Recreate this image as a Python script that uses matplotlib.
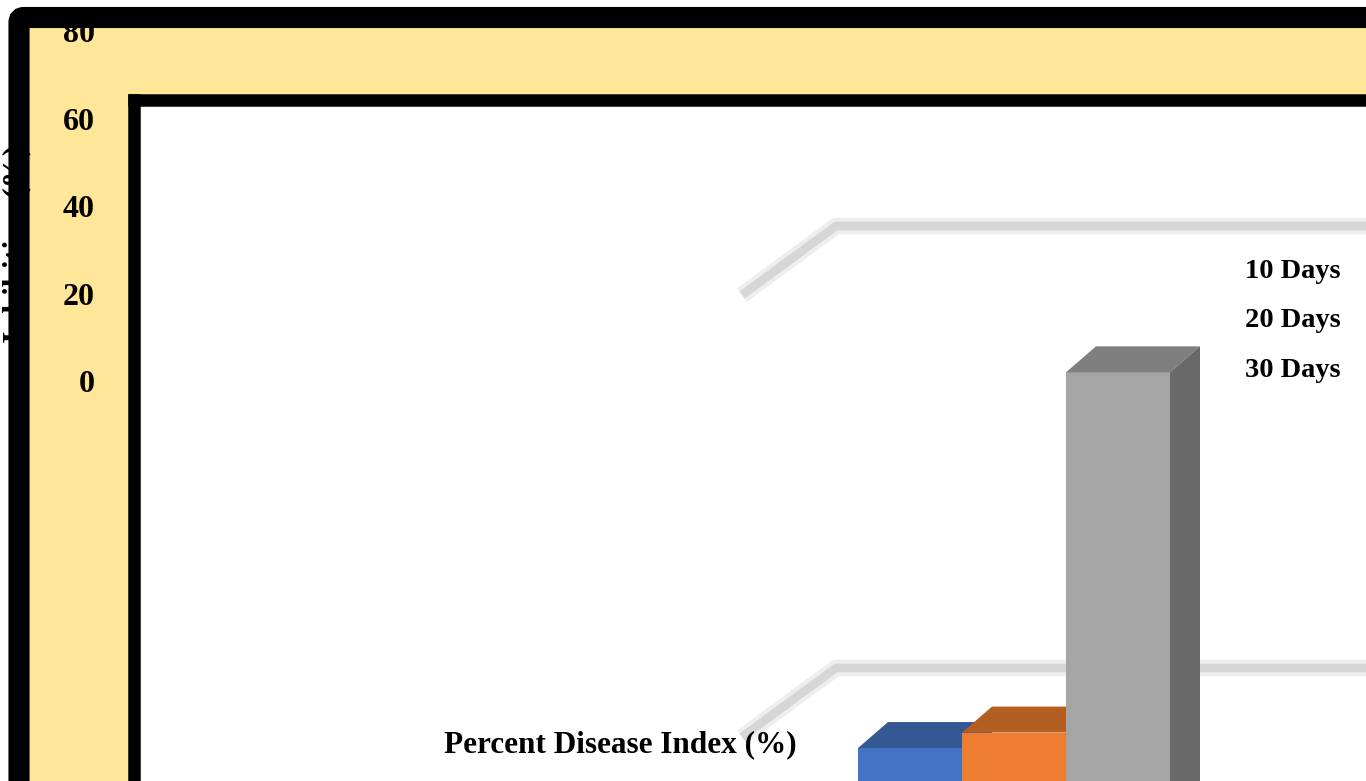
import matplotlib
matplotlib.use("Agg")
import matplotlib.pyplot as plt
from matplotlib.patches import Polygon, FancyBboxPatch
from matplotlib.transforms import IdentityTransform

plt.rcParams["font.family"] = ["Liberation Serif", "DejaVu Serif"]
plt.rcParams["font.weight"] = "bold"

# data
category = "Percent Disease Index (%)"
series = ["10 Days", "20 Days", "30 Days"]
values = [19.5, 20.2, 36.5]
front_colors = ["#4472c4", "#ed7d31", "#a5a5a5"]
top_colors = ["#335894", "#b45f22", "#7f7f7f"]
side_colors = ["#2f5597", "#c55a11", "#696969"]
grid_values = [20, 40]
y_ticks = [0, 20, 40, 60, 80]
y_label = "Inhibition (%)"

W, H = 1366, 781
fig = plt.figure(figsize=(W / 100, H / 100), dpi=100)


def fx(px):
    return px / W


def fy(py):
    # py counted from the top of the picture
    return 1 - py / H


# yellow chart area with the rounded black border
box = dict(boxstyle="round,pad=0,rounding_size=5", transform=IdentityTransform())
yellow = FancyBboxPatch((19, -60), W + 60, H + 60 - 17.5, facecolor="#ffe699",
                        edgecolor="none", zorder=-1, **box)
border = FancyBboxPatch((19, -60), W + 60, H + 60 - 17.5, facecolor="none",
                        edgecolor="black", linewidth=15.2, zorder=2, **box)
fig.add_artist(yellow)
fig.add_artist(border)

# plot area (zoomed 3d column chart)
ax = fig.add_axes([fx(134), 0, 1 - fx(134), fy(99.5)])
px_x, cx = 390.0, 1014.0     # px per x unit, px of group centre
px_y, y0 = 22.1, 1179.0      # px per y unit, px of value 0
ax.set_xlim((134 - cx) / px_x, (W - cx) / px_x)
ax.set_ylim((y0 - H) / px_y, (y0 - 99.5) / px_y)
ax.set_xticks([])
ax.set_yticks([])
for s in ["right", "bottom"]:
    ax.spines[s].set_visible(False)
for s in ["left", "top"]:
    ax.spines[s].set_linewidth(9)
    ax.spines[s].set_capstyle("projecting")

# back wall gridlines
wall_x = (742 - cx) / px_x
wall_dx, wall_dy = 94 / px_x, 69 / px_y
for g in grid_values:
    xs = [wall_x, wall_x + wall_dx, 5]
    ys = [g, g + wall_dy, g + wall_dy]
    ax.plot(xs, ys, color="#eeeeee", lw=12, zorder=1, solid_capstyle="butt")
    ax.plot(xs, ys, color="#d6d6d6", lw=6.2, zorder=1.1, solid_capstyle="butt")

# bars with fake depth
w = 0.8 / len(series)
ddx, ddy = 30 / px_x, 26 / px_y
handles = []
for i, (name, v) in enumerate(zip(series, values)):
    x = (i - (len(series) - 1) / 2) * w
    z = 3 + i
    b = ax.bar(x, v, width=w, color=front_colors[i], linewidth=0, zorder=z, label=name)
    handles.append(b)
    l, r = x - w / 2, x + w / 2
    ax.add_patch(Polygon([(l, v), (r, v), (r + ddx, v + ddy), (l + ddx, v + ddy)],
                         closed=True, facecolor=top_colors[i], edgecolor="none", zorder=z))
    ax.add_patch(Polygon([(r, 0), (r, v), (r + ddx, v + ddy), (r + ddx, ddy)],
                         closed=True, facecolor=side_colors[i], edgecolor="none", zorder=z))

ax.text((620 - cx) / px_x, (y0 - 745) / px_y, category, ha="center", va="center",
        fontsize=22.5, zorder=10)

leg = ax.legend(handles, series, loc="upper left", bbox_to_anchor=(fx(1245), fy(258)),
                bbox_transform=fig.transFigure, frameon=False, fontsize=20.5,
                handlelength=0, handletextpad=0, labelspacing=0.83, borderpad=0,
                borderaxespad=0)
for h in leg.legend_handles:
    h.set_visible(False)

# value axis labels on the yellow band
ax_t = fig.add_axes([fx(100), 0, fx(20), fy(28)], zorder=1)
ax_t.set_frame_on(False)
ax_t.set_xticks([])
ax_t.set_ylim(-(H - 381.5) / 4.375, 80 + 3.5 / 4.375)
ax_t.set_yticks(y_ticks)
ax_t.tick_params(axis="y", length=0, pad=3.6, labelsize=23)

fig.text(fx(17), fy(244), y_label, rotation=90, ha="center", va="center",
         fontsize=23, zorder=1)

fig.savefig("out.png", dpi=100)
